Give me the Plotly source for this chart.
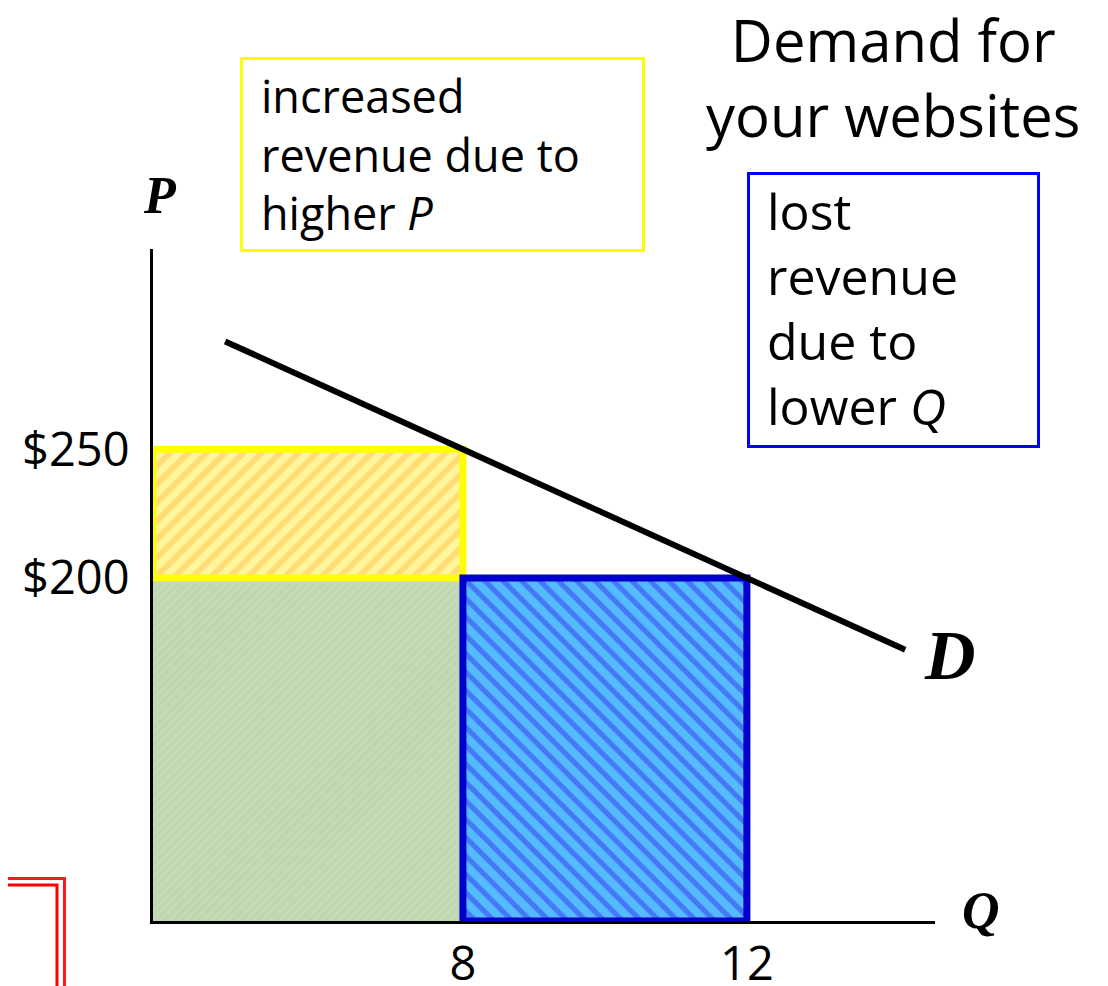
import plotly.graph_objects as go

# ---- data ----
q_old, q_new = 12, 8          # quantity before / after the price rise
p_old, p_new = 200, 250       # price before / after
demand_q = [4.65, 14.23]      # demand curve end points
demand_p = [291.9, 172.1]
q_ticks = [8, 12]
q_tick_labels = ["8", "12"]
p_ticks = [250, 200]
p_tick_labels = ["$250", "$200"]
q_axis = [3.634, 14.65]       # schematic (truncated) axis ranges
p_axis = [66.75, 327.8]

# page has an 8px body margin: draw the figure 8px smaller so it fits the window
OFF = 8
W, H = 1108 - OFF, 986 - OFF
X0, X1, Y0, Y1 = 153, 935, 249, 921          # plot area in window pixels
L, R, T, B = X0 - OFF, W - (X1 - OFF), Y0 - OFF, H - (Y1 - OFF)
PW, PH = X1 - X0, Y1 - Y0


def px(x):
    return (x - X0) / PW


def py(y):
    return (Y1 - y) / PH


q0, p0 = q_axis[0], p_axis[0]

fig = go.Figure()

# green: revenue kept
fig.add_trace(go.Scatter(
    x=[q0, q_new, q_new, q0, q0], y=[p0, p0, p_old, p_old, p0],
    mode="lines", fill="toself", line=dict(width=0),
    fillcolor="#c2d9b4",
    fillpattern=dict(shape="/", fgcolor="#cbe0c0", bgcolor="#bfd6b1", size=6, solidity=0.4),
    hoverinfo="skip", showlegend=False))

# yellow: increased revenue due to higher P
fig.add_trace(go.Scatter(
    x=[q0, q_new, q_new, q0, q0], y=[p_old, p_old, p_new, p_new, p_old],
    mode="lines", fill="toself", line=dict(width=0),
    fillpattern=dict(shape="/", fgcolor="#ffc34d", bgcolor="#fff59a", size=13, solidity=0.45),
    hoverinfo="skip", showlegend=False))

# blue: lost revenue due to lower Q
fig.add_trace(go.Scatter(
    x=[q_new, q_old, q_old, q_new, q_new], y=[p0, p0, p_old, p_old, p0],
    mode="lines", fill="toself", line=dict(width=0),
    fillpattern=dict(shape="\\", fgcolor="#3636f0", bgcolor="#55bbff", size=13, solidity=0.4),
    hoverinfo="skip", showlegend=False))

# dashed guides
dash = dict(color="#9a9a9a", width=2, dash="dash")
fig.add_trace(go.Scatter(x=[q0, q_new], y=[p_new, p_new], mode="lines", line=dash,
                         hoverinfo="skip", showlegend=False))
fig.add_trace(go.Scatter(x=[q_new, q_old, q_old], y=[p_old, p_old, p0], mode="lines", line=dash,
                         hoverinfo="skip", showlegend=False))

# borders
fig.add_trace(go.Scatter(
    x=[q0, q_new, q_new, q0, q0], y=[p_old, p_old, p_new, p_new, p_old],
    mode="lines", line=dict(color="#ffff00", width=7),
    hoverinfo="skip", showlegend=False))
fig.add_trace(go.Scatter(
    x=[q_new, q_old, q_old, q_new, q_new], y=[p0, p0, p_old, p_old, p0],
    mode="lines", line=dict(color="#0000cc", width=7),
    hoverinfo="skip", showlegend=False))

# demand curve
fig.add_trace(go.Scatter(x=demand_q, y=demand_p, mode="lines",
                         line=dict(color="black", width=6),
                         hoverinfo="skip", showlegend=False))

txt = "Open Sans, Noto Sans, sans-serif"
serif = "Liberation Serif, DejaVu Serif, serif"

annotations = [
    dict(text="Demand for<br>your websites", x=px(893), y=py(77), xref="paper", yref="paper",
         showarrow=False, font=dict(family=txt, size=58, color="black"), align="center",
         xanchor="center", yanchor="middle"),
    dict(text="increased<br>revenue due to<br>higher <i>P</i>", x=px(259), y=py(154),
         xref="paper", yref="paper", showarrow=False,
         font=dict(family=txt, size=45, color="black"), align="left",
         xanchor="left", yanchor="middle"),
    dict(text="lost<br>revenue<br>due to<br>lower <i>Q</i>", x=px(765), y=py(308),
         xref="paper", yref="paper", showarrow=False,
         font=dict(family=txt, size=50, color="black"), align="left",
         xanchor="left", yanchor="middle"),
    dict(text="<b><i>P</i></b>", x=px(160), y=py(196), xref="paper", yref="paper",
         showarrow=False, font=dict(family=serif, size=52, color="black"),
         xanchor="center", yanchor="middle"),
    dict(text="<b><i>Q</i></b>", x=px(981), y=py(910), xref="paper", yref="paper",
         showarrow=False, font=dict(family=serif, size=52, color="black"),
         xanchor="center", yanchor="middle"),
    dict(text="<b><i>D</i></b>", x=px(950), y=py(655), xref="paper", yref="paper",
         showarrow=False, font=dict(family=serif, size=70, color="black"),
         xanchor="center", yanchor="middle"),
]

shapes = [
    # callout frames
    dict(type="rect", xref="paper", yref="paper",
         x0=px(241.5), x1=px(643.5), y0=py(58.5), y1=py(250.5),
         line=dict(color="#ffff00", width=3)),
    dict(type="rect", xref="paper", yref="paper",
         x0=px(748.5), x1=px(1038.5), y0=py(173.5), y1=py(446.5),
         line=dict(color="#0000ff", width=3)),
    # red double frame fragment at the lower left
    dict(type="path", xref="paper", yref="paper",
         path=f"M {px(-10)} {py(878.5)} L {px(64.5)} {py(878.5)} L {px(64.5)} {py(1000)}",
         line=dict(color="#ff1a1a", width=3)),
    dict(type="path", xref="paper", yref="paper",
         path=f"M {px(-10)} {py(885)} L {px(57)} {py(885)} L {px(57)} {py(1000)}",
         line=dict(color="#ff0000", width=3)),
]

fig.update_layout(
    width=W, height=H,
    margin=dict(l=L, r=R, t=T, b=B, pad=0, autoexpand=False),
    paper_bgcolor="white", plot_bgcolor="white",
    showlegend=False,
    annotations=annotations,
    shapes=shapes,
    xaxis=dict(range=q_axis, showgrid=False, zeroline=False, showline=True, automargin=False,
               linecolor="black", linewidth=3, tickvals=q_ticks, ticktext=q_tick_labels,
               ticks="", tickfont=dict(family=txt, size=47, color="black"),
               ticklabelstandoff=0, fixedrange=True),
    yaxis=dict(range=p_axis, showgrid=False, zeroline=False, showline=True, automargin=False,
               linecolor="black", linewidth=3, tickvals=p_ticks, ticktext=p_tick_labels,
               ticks="", tickfont=dict(family=txt, size=47, color="black"),
               ticklabelstandoff=11, fixedrange=True),
)

fig.write_html("out.html")
